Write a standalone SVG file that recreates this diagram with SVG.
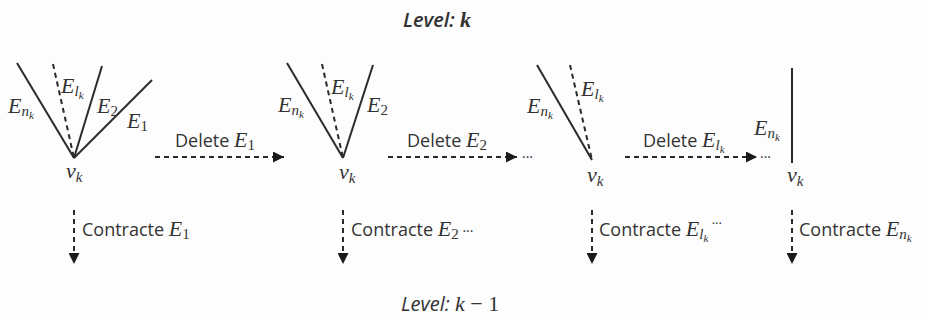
<svg xmlns="http://www.w3.org/2000/svg" width="929" height="320" viewBox="0 0 929 320">
<style>
.e{stroke:#2a2a2a;stroke-width:2;fill:none}
.d{stroke:#2a2a2a;stroke-width:2;fill:none;stroke-dasharray:5,4}
.m{font-family:"Liberation Serif","DejaVu Serif",serif;font-style:italic;font-size:22px;fill:#333}
.s{font-size:15px}
.n{font-style:normal}
.ss{font-size:11px}
.t{font-family:"Open Sans","Liberation Sans",sans-serif;font-size:18px;fill:#333}
.dots{font-family:"Open Sans","Liberation Sans",sans-serif;font-size:14px;fill:#333}
.lv{font-family:"Open Sans","Liberation Sans",sans-serif;font-style:italic;font-size:20px;fill:#333}
</style>
<defs>
<marker id="ah" viewBox="0 0 10 10" refX="10" refY="5" markerWidth="11" markerHeight="11" markerUnits="userSpaceOnUse" orient="auto">
<path d="M0,0L10,5L0,10z" fill="#1a1a1a"/>
</marker>
</defs>
<rect width="929" height="320" fill="#fdfdfd"/>
<g id="level-k"><text class="lv" x="403" y="27" font-weight="600">Level<tspan>: </tspan><tspan class="m" font-size="22px" font-weight="bold">k</tspan></text></g>
<g id="level-k-1"><text class="lv" x="401" y="311">Level<tspan>: </tspan><tspan class="m">k</tspan><tspan class="m n"> − 1</tspan></text></g>

<g id="node1">
<line class="e" x1="17" y1="63" x2="74" y2="158"/>
<line class="d" x1="53" y1="64" x2="74" y2="158"/>
<line class="e" x1="102" y1="66" x2="74" y2="158"/>
<line class="e" x1="152" y1="80" x2="74" y2="158"/>
<text class="m" x="8" y="113">E<tspan class="s" dy="3">n</tspan><tspan class="ss" dy="3">k</tspan></text>
<text class="m" x="61" y="93">E<tspan class="s" dy="3">l</tspan><tspan class="ss" dy="3">k</tspan></text>
<text class="m" x="97" y="113">E<tspan class="s n" dy="3">2</tspan></text>
<text class="m" x="127" y="128">E<tspan class="s n" dy="3">1</tspan></text>
<text class="m" x="66" y="178" font-size="23px">v<tspan class="s" dy="4">k</tspan></text>
</g>

<g id="node2">
<line class="e" x1="287" y1="63" x2="343" y2="158"/>
<line class="d" x1="322" y1="64" x2="343" y2="158"/>
<line class="e" x1="373" y1="65" x2="343" y2="158"/>
<text class="m" x="278" y="112">E<tspan class="s" dy="3">n</tspan><tspan class="ss" dy="3">k</tspan></text>
<text class="m" x="331" y="94">E<tspan class="s" dy="3">l</tspan><tspan class="ss" dy="3">k</tspan></text>
<text class="m" x="367" y="112">E<tspan class="s n" dy="3">2</tspan></text>
<text class="m" x="339" y="179" font-size="23px">v<tspan class="s" dy="4">k</tspan></text>
</g>

<g id="node3">
<line class="e" x1="537" y1="65" x2="592" y2="160"/>
<line class="d" x1="570" y1="65" x2="592" y2="160"/>
<text class="m" x="527" y="113">E<tspan class="s" dy="3">n</tspan><tspan class="ss" dy="3">k</tspan></text>
<text class="m" x="581" y="96">E<tspan class="s" dy="3">l</tspan><tspan class="ss" dy="3">k</tspan></text>
<text class="m" x="587" y="182" font-size="23px">v<tspan class="s" dy="4">k</tspan></text>
</g>

<g id="node4">
<line class="e" x1="792" y1="68" x2="792" y2="163"/>
<text class="m" x="754" y="135">E<tspan class="s" dy="3">n</tspan><tspan class="ss" dy="3">k</tspan></text>
<text class="m" x="787" y="182" font-size="23px">v<tspan class="s" dy="4">k</tspan></text>
</g>

<g id="connectors">
<line class="d" x1="155" y1="157" x2="284" y2="157" marker-end="url(#ah)"/>
<line class="d" x1="388" y1="157" x2="517" y2="157" marker-end="url(#ah)"/>
<line class="d" x1="625" y1="157" x2="757" y2="157" marker-end="url(#ah)"/>
<line class="d" x1="74" y1="210" x2="74" y2="264" marker-end="url(#ah)"/>
<line class="d" x1="343" y1="210" x2="343" y2="264" marker-end="url(#ah)"/>
<line class="d" x1="592" y1="210" x2="592" y2="264" marker-end="url(#ah)"/>
<line class="d" x1="792" y1="210" x2="792" y2="264" marker-end="url(#ah)"/>
<text class="t" x="175" y="147">Delete <tspan class="m">E</tspan><tspan class="m s n" dy="3">1</tspan></text>
<text class="t" x="407" y="147">Delete <tspan class="m">E</tspan><tspan class="m s n" dy="3">2</tspan></text>
<text class="t" x="643" y="147">Delete <tspan class="m">E</tspan><tspan class="m s" dy="3">l</tspan><tspan class="m ss" dy="3">k</tspan></text>
<text class="dots" x="522" y="162">···</text>
<text class="dots" x="760" y="162">···</text>
<text class="t" x="82" y="236">Contracte <tspan class="m">E</tspan><tspan class="m s n" dy="3">1</tspan></text>
<text class="t" x="351" y="236">Contracte <tspan class="m">E</tspan><tspan class="m s n" dy="3">2</tspan><tspan dy="-3" font-size="14px"> ···</tspan></text>
<text class="t" x="599" y="236">Contracte <tspan class="m">E</tspan><tspan class="m s" dy="3">l</tspan><tspan class="m ss" dy="3">k</tspan><tspan dy="-14" font-size="13px"> ···</tspan></text>
<text class="t" x="799" y="236">Contracte <tspan class="m">E</tspan><tspan class="m s" dy="3">n</tspan><tspan class="m ss" dy="3">k</tspan></text>
</g>
</svg>
